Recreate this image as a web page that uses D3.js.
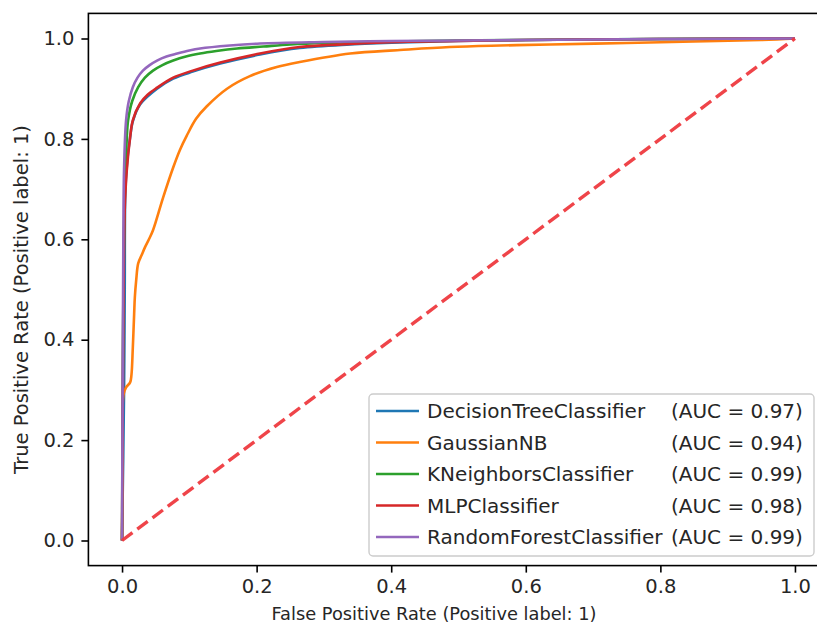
<!DOCTYPE html>
<html lang="en">
  <head>
    <meta charset="UTF-8" />
    <title>ROC curves</title>
    <script src="https://d3js.org/d3.v7.min.js"></script>
    <style>
      body { margin: 0; background: #fff; }
      text { font-family: "DejaVu Sans", sans-serif; fill: #262626; }
    </style>
  </head>
  <body>
    <script>
      // model names / AUC / colours
      const names = ["DecisionTreeClassifier", "GaussianNB", "KNeighborsClassifier", "MLPClassifier", "RandomForestClassifier"];
      const aucs = [0.97, 0.94, 0.99, 0.98, 0.99];
      const colors = ["#1f77b4", "#ff7f0e", "#2ca02c", "#d62728", "#9467bd"];

      // ROC points
      const fprTree = [0, 0.003, 0.004, 0.005, 0.008, 0.012, 0.016, 0.027, 0.052, 0.076, 0.105, 0.146, 0.205, 0.264, 0.339, 0.413, 0.5, 0.6, 0.8, 1.0];
      const tprTree = [0, 0.3, 0.5, 0.7, 0.76, 0.803, 0.835, 0.869, 0.9, 0.92, 0.934, 0.95, 0.968, 0.981, 0.988, 0.992, 0.995, 0.997, 0.999, 1.0];

      const fprNB = [0, 0.001, 0.002, 0.006, 0.012, 0.014, 0.016, 0.018, 0.019, 0.021, 0.024, 0.029, 0.034, 0.04, 0.046, 0.061, 0.076, 0.086, 0.096, 0.11, 0.126, 0.156, 0.19, 0.23, 0.264, 0.339, 0.413, 0.487, 0.562, 0.636, 0.75, 0.85, 0.95, 1.0];
      const tprNB = [0, 0.15, 0.29, 0.305, 0.315, 0.33, 0.384, 0.452, 0.484, 0.518, 0.552, 0.568, 0.584, 0.6, 0.618, 0.683, 0.743, 0.778, 0.806, 0.84, 0.865, 0.9, 0.925, 0.943, 0.953, 0.97, 0.977, 0.983, 0.986, 0.988, 0.991, 0.994, 0.997, 1.0];

      const fprKNN = [0, 0.001, 0.003, 0.007, 0.009, 0.015, 0.024, 0.034, 0.046, 0.06, 0.076, 0.095, 0.116, 0.14, 0.171, 0.21, 0.25, 0.3, 0.4, 0.5, 0.6, 0.8, 1.0];
      const tprKNN = [0, 0.3, 0.62, 0.8, 0.837, 0.875, 0.903, 0.922, 0.936, 0.947, 0.956, 0.964, 0.97, 0.975, 0.98, 0.984, 0.988, 0.991, 0.994, 0.996, 0.997, 0.999, 1.0];

      const fprMLP = [0, 0.002, 0.004, 0.007, 0.012, 0.016, 0.027, 0.038, 0.052, 0.076, 0.105, 0.146, 0.205, 0.264, 0.339, 0.413, 0.5, 0.6, 0.7, 0.8, 0.9, 1.0];
      const tprMLP = [0, 0.45, 0.66, 0.737, 0.803, 0.837, 0.871, 0.888, 0.902, 0.922, 0.936, 0.952, 0.97, 0.983, 0.989, 0.993, 0.995, 0.997, 0.998, 0.999, 0.9995, 1.0];

      const fprRF = [0, 0.001, 0.002, 0.003, 0.006, 0.01, 0.016, 0.023, 0.031, 0.041, 0.052, 0.066, 0.082, 0.1, 0.116, 0.16, 0.205, 0.3, 0.4, 0.5, 0.6, 0.7, 0.8, 0.9, 1.0];
      const tprRF = [0, 0.35, 0.62, 0.74, 0.837, 0.875, 0.903, 0.922, 0.936, 0.947, 0.956, 0.964, 0.97, 0.976, 0.98, 0.986, 0.99, 0.993, 0.995, 0.996, 0.997, 0.998, 0.999, 0.9995, 1.0];

      const xTicks = [0, 0.2, 0.4, 0.6, 0.8, 1.0];
      const yTicks = [0, 0.2, 0.4, 0.6, 0.8, 1.0];

      const curves = [
        [fprTree, tprTree],
        [fprNB, tprNB],
        [fprKNN, tprKNN],
        [fprMLP, tprMLP],
        [fprRF, tprRF],
      ];

      const width = 817;
      const height = 628;
      const fs = 19.5;

      const svg = d3
        .select("body")
        .append("svg")
        .attr("width", width)
        .attr("height", height);

      // plot box (right edge falls just outside the image, like the original)
      const x = d3.scaleLinear().domain([-0.05, 1.05]).range([88.4, 828.6]);
      const y = d3.scaleLinear().domain([-0.05, 1.05]).range([565.6, 13.4]);

      const line = d3
        .line()
        .x((d) => x(d[0]))
        .y((d) => y(d[1]))
        .curve(d3.curveCatmullRom.alpha(0.5));

      const plot = svg.append("g");

      curves.forEach(([fx, ty], i) => {
        plot
          .append("path")
          .datum(fx.map((v, j) => [v, ty[j]]))
          .attr("fill", "none")
          .attr("stroke", colors[i])
          .attr("stroke-width", 2.6)
          .attr("stroke-linejoin", "round")
          .attr("d", line);
      });

      // chance line
      plot
        .append("path")
        .datum([[0, 0], [1, 1]])
        .attr("fill", "none")
        .attr("stroke", "#ee3a3f")
        .attr("stroke-opacity", 0.95)
        .attr("stroke-width", 3.4)
        .attr("stroke-dasharray", "13,6")
        .attr("d", d3.line().x((d) => x(d[0])).y((d) => y(d[1])));

      // axes
      const xAxis = svg
        .append("g")
        .attr("transform", `translate(0,${y(-0.05)})`)
        .call(d3.axisBottom(x).tickValues(xTicks).tickFormat(d3.format(".1f")).tickSize(7).tickPadding(7));
      const yAxis = svg
        .append("g")
        .attr("transform", `translate(${x(-0.05)},0)`)
        .call(d3.axisLeft(y).tickValues(yTicks).tickFormat(d3.format(".1f")).tickSize(7).tickPadding(7));

      [xAxis, yAxis].forEach((a) => {
        a.select(".domain").remove();
        a.selectAll("line").attr("stroke", "#000").attr("stroke-width", 1.6);
        a.selectAll("text").attr("font-size", fs).attr("font-family", "DejaVu Sans").attr("fill", "#262626");
      });

      // spines
      svg
        .append("rect")
        .attr("x", x(-0.05))
        .attr("y", y(1.05))
        .attr("width", x(1.05) - x(-0.05))
        .attr("height", y(-0.05) - y(1.05))
        .attr("fill", "none")
        .attr("stroke", "#000")
        .attr("stroke-width", 1.6);

      // axis titles
      svg
        .append("text")
        .attr("x", 434)
        .attr("y", 620)
        .attr("text-anchor", "middle")
        .attr("font-size", 17.8)
        .text("False Positive Rate (Positive label: 1)");

      svg
        .append("text")
        .attr("transform", `translate(28,${(y(-0.05) + y(1.05)) / 2 + 10}) rotate(-90)`)
        .attr("text-anchor", "middle")
        .attr("font-size", fs)
        .text("True Positive Rate (Positive label: 1)");

      // legend
      const lg = svg.append("g");
      lg.append("rect")
        .attr("x", 369)
        .attr("y", 394)
        .attr("width", 445)
        .attr("height", 162)
        .attr("rx", 4)
        .attr("fill", "white")
        .attr("fill-opacity", 0.8)
        .attr("stroke", "#cccccc")
        .attr("stroke-width", 1.4);

      const rowY = d3.scaleLinear().domain([0, 4]).range([411, 537]);
      const aucCol = 671;
      names.forEach((n, i) => {
        const cy = rowY(i);
        lg.append("line")
          .attr("x1", 376).attr("x2", 419)
          .attr("y1", cy).attr("y2", cy)
          .attr("stroke", colors[i])
          .attr("stroke-width", 2.6);
        const t = lg.append("text")
          .attr("x", 427)
          .attr("y", cy + 7)
          .attr("font-size", 20)
          .text(n);
        const end = 427 + t.node().getComputedTextLength();
        lg.append("text")
          .attr("x", Math.max(aucCol, end + 6))
          .attr("y", cy + 7)
          .attr("font-size", 20)
          .text(`(AUC = ${aucs[i].toFixed(2)})`);
      });
    </script>
  </body>
</html>
